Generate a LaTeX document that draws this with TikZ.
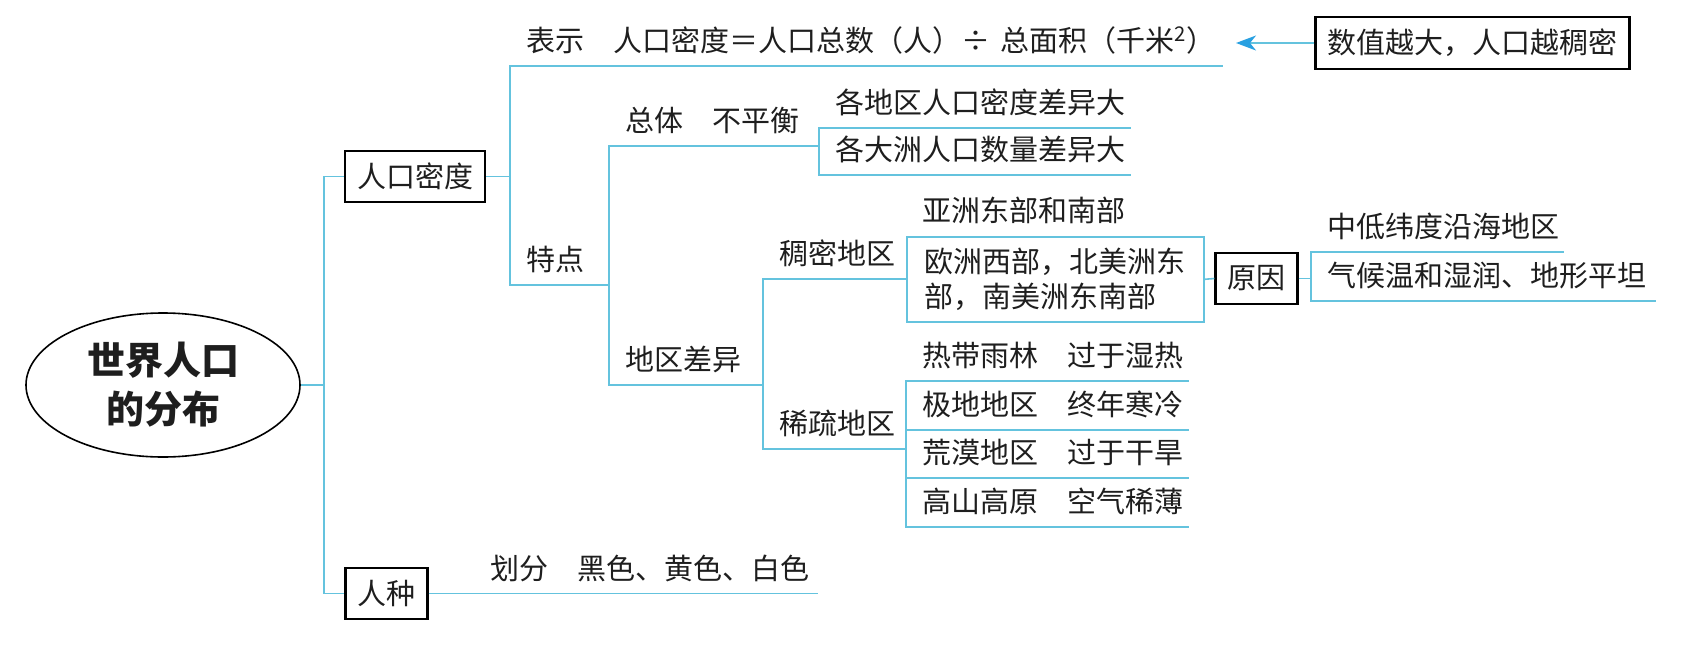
\documentclass[tikz,border=0pt]{standalone}
\usepackage{fontspec}
\setmainfont{Noto Sans CJK SC}
\usetikzlibrary{shapes.geometric, arrows.meta, positioning}

\definecolor{linecyan}{RGB}{100,195,222}
\definecolor{arrowblue}{RGB}{40,160,225}
\definecolor{inkgray}{RGB}{30,30,30}

\begin{document}
\begin{tikzpicture}[
    x=0.5pt, y=-0.5pt,
    every node/.style={text=inkgray},
    topic/.style={ellipse, draw=black, line width=0.8pt, minimum width=137pt, minimum height=72pt, align=center, font=\fontsize{19pt}{24.5pt}\selectfont\bfseries},
    box/.style={rectangle, draw=black, line width=1.1pt, inner xsep=6pt, minimum height=25.5pt, font=\fontsize{14.5pt}{17.5pt}\selectfont},
    item/.style={anchor=south west, align=left, inner xsep=0pt, inner ysep=0pt, text height=13pt, text depth=7pt, execute at begin node=\hspace*{8pt}, font=\fontsize{14.5pt}{17.5pt}\selectfont},
    group/.style={rectangle, draw=linecyan, line width=0.8pt, anchor=north west, align=left, font=\fontsize{14.5pt}{17.5pt}\selectfont},
    link/.style={draw=linecyan, line width=0.8pt},
    pointer/.style={link, -{Stealth[length=10pt, width=7.5pt, inset=3pt, color=arrowblue]}}
]
\useasboundingbox (0,0) rectangle (1696,648);

% Main topic and first level
\node[topic] (root) at (163,385) {世界人口\\的分布};
\coordinate (hub) at (324,385);
\node[box] (density) at (415,176.5) {人口密度};
\node[box] (race) at (386.5,593.5) {人种};

% Density branch
\node[item, text width=356pt] (show) at (510,66) {表示\quad 人口密度＝人口总数（人）÷ 总面积（千米\textsuperscript{2}）};
\node[box, minimum height=26pt] (note) at (1472.5,43) {数值越大，人口越稠密};
\coordinate (tip) at (1236,43);
\node[item, text width=49.5pt] (feature) at (510,285) {特点};
\node[item, text width=105pt] (overall) at (609,146) {总体\quad 不平衡};
\node[item, text width=77pt] (region) at (609,385) {地区差异};
\node[item, text width=155.5pt] (diffA) at (819,128) {各地区人口密度差异大};
\node[item, text width=155.5pt] (diffB) at (819,175) {各大洲人口数量差异大};

% Dense and sparse areas
\node[item, text width=71.5pt] (dense) at (763,279) {稠密地区};
\node[item, text width=71.5pt] (sparse) at (763,449) {稀疏地区};
\node[item, text width=148.5pt] (asia) at (906,236) {亚洲东部和南部};
\node[group, minimum width=148.5pt, minimum height=42.5pt] (europe) at (906,236) {欧洲西部，北美洲东\\部，南美洲东南部};
\node[box] (reason) at (1256.5,278.5) {原因};
\node[item, text width=126pt] (coastal) at (1311,252) {中低纬度沿海地区};
\node[item, text width=172pt] (climate) at (1311,301) {气候温和湿润、地形平坦};
\node[item, text width=141pt] (rain) at (906,381) {热带雨林\quad 过于湿热};
\node[item, text width=141pt] (polar) at (906,430) {极地地区\quad 终年寒冷};
\node[item, text width=141pt] (desert) at (906,478) {荒漠地区\quad 过于干旱};
\node[item, text width=141pt] (plateau) at (906,527) {高山高原\quad 空气稀薄};

% Race branch
\node[item, text width=171.5pt] (split) at (474,593.5) {划分\quad 黑色、黄色、白色};

% Connections
\draw[link] (root.east) -- (hub);
\draw[link] (density.west) -| (hub) |- (race.west);
\draw[link] (density.east) -- (density.east -| show.south west);
\draw[link] (show.south east) -- (show.south west) -- (feature.south west) -- (feature.south east);
\draw[link] (overall.south east) -- (overall.south west) -- (region.south west) -- (region.south east);
\draw[link] (diffA.south east) -- (diffA.south west) -- (diffB.south west) -- (diffB.south east);
\draw[link] (dense.south east) -- (dense.south west) -- (sparse.south west) -- (sparse.south east);
\draw[link] (rain.south east) -- (rain.south west) -- (plateau.south west) -- (plateau.south east);
\draw[link] (polar.south west) -- (polar.south east);
\draw[link] (desert.south west) -- (desert.south east);
\draw[link] (europe.east) -- (reason.west);
\draw[link] (reason.east) -- (reason.east -| coastal.south west);
\draw[link] (coastal.south east) -- (coastal.south west) -- (climate.south west) -- (climate.south east);
\draw[link] (race.east) -- (split.south west) -- (split.south east);
\draw[pointer] (note.west) -- (tip);

\end{tikzpicture}
\end{document}
